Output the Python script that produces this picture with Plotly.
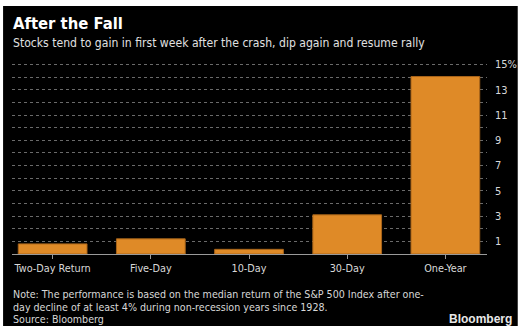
import plotly.graph_objects as go

categories = ["Two-Day Return", "Five-Day", "10-Day", "30-Day", "One-Year"]
returns_pct = [0.8, 1.2, 0.37, 3.1, 14.05]
grid_vals = list(range(1, 16))
grid_text = ["1", "", "3", "", "5", "", "7", "", "9", "", "11", "", "13", "", "15%"]

W, H = 529, 333
L, R, T, B = 12, 38, 62, 79
PW, PH = W - L - R, H - T - B

def px(x):
    return (x - L) / PW

def py(y):
    return (H - B - y) / PH

FONT = "DejaVu Sans Condensed, DejaVu Sans, sans-serif"

fig = go.Figure()
fig.add_trace(go.Bar(
    x=categories, y=returns_pct,
    marker=dict(color="#DF8A27", line=dict(color="#A8641A", width=1)),
    width=0.7, hoverinfo="skip",
))

fig.update_layout(
    width=W, height=H,
    margin=dict(l=L, r=R, t=T, b=B),
    paper_bgcolor="white", plot_bgcolor="black",
    showlegend=False,
    font=dict(family=FONT, color="#d0d0d0", size=11),
    xaxis=dict(range=[-0.414, 4.424], showgrid=False, zeroline=False,
               showline=True, linecolor="#9a9a9a", linewidth=1,
               ticks="outside", ticklen=4, tickcolor="#9a9a9a",
               tickfont=dict(size=10.8, color="#d8d8d8", family=FONT)),
    yaxis=dict(range=[0, 15.2], side="right", tickvals=grid_vals, ticktext=grid_text,
               showgrid=True, gridcolor="#6a6a6a", griddash="dot", gridwidth=1,
               zeroline=False, showline=False, ticks="", ticklabelstandoff=7,
               tickfont=dict(size=11, color="#d8d8d8", family=FONT)),
    shapes=[dict(type="rect", xref="paper", yref="paper", layer="below",
                 x0=px(3), x1=px(522), y0=py(326), y1=py(6),
                 fillcolor="black", line=dict(width=0))],
)

def note(text, x, y, size, color="#d8d8d8", bold=False, xanchor="left", family=FONT):
    fig.add_annotation(text=f"<b>{text}</b>" if bold else text,
                       xref="paper", yref="paper", x=px(x), y=py(y),
                       xanchor=xanchor, yanchor="middle", showarrow=False,
                       font=dict(size=size, color=color, family=family))

note("After the Fall", 11, 24, 16.5, color="white", bold=True)
note("Stocks tend to gain in first week after the crash, dip again and resume rally", 11, 43, 12.1, color="#e0e0e0")
note("Note: The performance is based on the median return of the S&P 500 Index after one-", 11, 294, 10.6)
note("day decline of at least 4% during non-recession years since 1928.", 11, 306.5, 10.6)
note("Source: Bloomberg", 11, 319, 10.6)
note("Bloomberg", 518, 319, 12, color="#e8e8e8", bold=True, xanchor="right", family="Liberation Sans, Arial, sans-serif")

fig.write_html("out.html")
